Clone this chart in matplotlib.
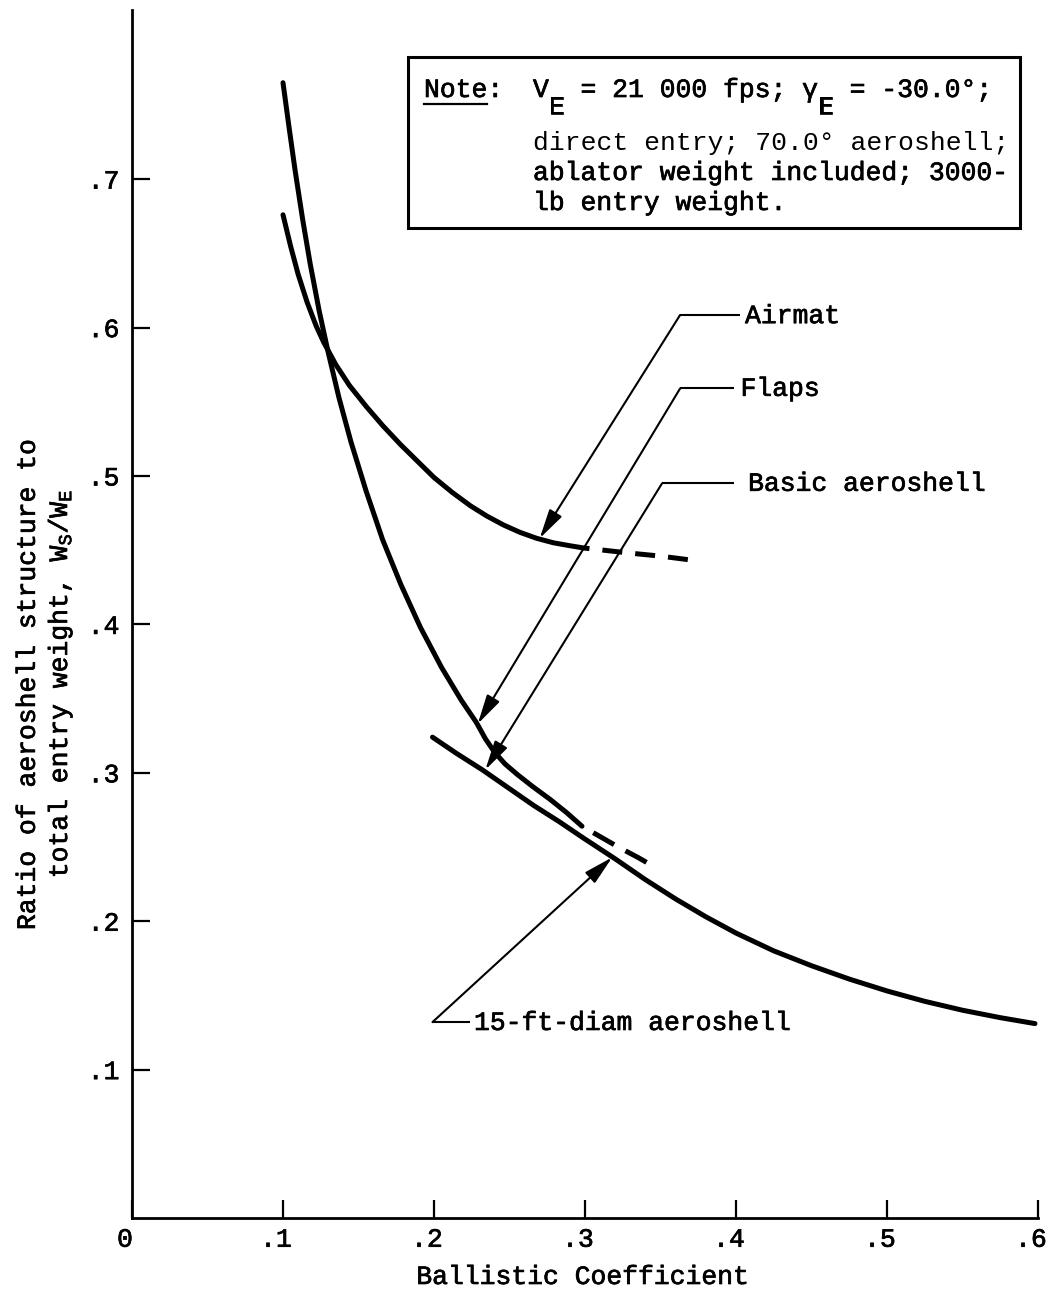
import matplotlib
matplotlib.use("Agg")
import matplotlib.pyplot as plt
import matplotlib.patheffects as pe
from matplotlib.patches import Rectangle
from matplotlib.transforms import ScaledTranslation

# ---------------------------------------------------------------------------
# Data: ratio of aeroshell structure weight to total entry weight vs.
# ballistic coefficient
# ---------------------------------------------------------------------------
airmat_x = [0.100, 0.105, 0.110, 0.116, 0.122, 0.127, 0.135, 0.144, 0.155, 0.166, 0.178,
            0.189, 0.200, 0.212, 0.224, 0.235, 0.246, 0.257, 0.268, 0.279, 0.290, 0.299]
airmat_y = [0.676, 0.655, 0.636, 0.617, 0.601, 0.590, 0.575, 0.561, 0.547, 0.534, 0.521,
            0.510, 0.499, 0.489, 0.480, 0.473, 0.467, 0.462, 0.458, 0.455, 0.453, 0.4515]
airmat_ext_x = [0.299, 0.330, 0.350, 0.373]
airmat_ext_y = [0.4515, 0.448, 0.446, 0.443]

basic_x = [0.100, 0.104, 0.108, 0.113, 0.118, 0.124, 0.130, 0.137, 0.145, 0.155, 0.166,
           0.178, 0.191, 0.205, 0.218, 0.228, 0.234, 0.240, 0.247, 0.255, 0.265, 0.277,
           0.288, 0.298]
basic_y = [0.765, 0.735, 0.706, 0.673, 0.643, 0.611, 0.583, 0.553, 0.523, 0.490, 0.457,
           0.427, 0.398, 0.371, 0.349, 0.334, 0.323, 0.314, 0.306, 0.299, 0.291, 0.282,
           0.273, 0.264]
basic_ext_x = [0.298, 0.310, 0.322, 0.335, 0.347]
basic_ext_y = [0.264, 0.257, 0.250, 0.243, 0.236]

diam15_x = [0.199, 0.215, 0.232, 0.249, 0.266, 0.283, 0.299, 0.320, 0.340, 0.360, 0.380,
            0.400, 0.425, 0.450, 0.475, 0.500, 0.525, 0.550, 0.575, 0.598]
diam15_y = [0.324, 0.313, 0.302, 0.290, 0.278, 0.267, 0.256, 0.242, 0.228, 0.215, 0.203,
            0.192, 0.180, 0.170, 0.161, 0.153, 0.146, 0.140, 0.135, 0.131]

xticks = [0.0, 0.1, 0.2, 0.3, 0.4, 0.5, 0.6]
xtick_labels = ["0", ".1", ".2", ".3", ".4", ".5", ".6"]
yticks = [0.1, 0.2, 0.3, 0.4, 0.5, 0.6, 0.7]
ytick_labels = [".1", ".2", ".3", ".4", ".5", ".6", ".7"]

# ---------------------------------------------------------------------------
W, H, DPI = 1049, 1294, 100
FS = 19
plt.rcParams["font.family"] = ["Liberation Mono", "DejaVu Sans Mono"]
plt.rcParams["mathtext.fontset"] = "custom"
plt.rcParams["mathtext.rm"] = "Liberation Mono"
plt.rcParams["mathtext.it"] = "Liberation Mono:italic"
plt.rcParams["lines.scale_dashes"] = False

INK = [pe.withStroke(linewidth=0.5, foreground="black")]

fig = plt.figure(figsize=(W / DPI, H / DPI), dpi=DPI)
AX_L, AX_R, AX_B, AX_T = 132, 1038, 1218, 10
ax = fig.add_axes([AX_L / W, 1 - AX_B / H, (AX_R - AX_L) / W, (AX_B - AX_T) / H])
ax.set_xlim(0, 0.6)
ax.set_ylim(0, 0.814)
ax.patch.set_alpha(0)

for side in ("top", "right"):
    ax.spines[side].set_visible(False)
for side in ("left", "bottom"):
    ax.spines[side].set_linewidth(2.0)

ax.set_xticks(xticks)
ax.set_xticklabels(xtick_labels)
ax.set_yticks(yticks)
ax.set_yticklabels(ytick_labels)
ax.tick_params(direction="in", length=13, width=1.6, labelsize=FS)
ax.tick_params(axis="x", pad=7)
ax.tick_params(axis="y", pad=9)
# nudge x labels left so the digit sits over its tick
shift = ScaledTranslation(-7 / DPI, 0, fig.dpi_scale_trans)
for tick in ax.xaxis.get_major_ticks():
    tick.label1.set_transform(tick.label1.get_transform() + shift)
for lab in ax.get_xticklabels() + ax.get_yticklabels():
    lab.set_path_effects(INK)

# curves
LW = 3.6
PX = 0.72  # points per pixel
smooth = dict(color="k", lw=LW, solid_capstyle="round", solid_joinstyle="round")
ax.plot(airmat_x, airmat_y, **smooth)
ax.plot(airmat_ext_x, airmat_ext_y, color="k", lw=LW,
        linestyle=(14 * PX, (20 * PX, 13 * PX)), dash_capstyle="butt")
ax.plot(basic_x, basic_y, **smooth)
ax.plot(basic_ext_x, basic_ext_y, color="k", lw=LW,
        linestyle=(24 * PX, (24 * PX, 13 * PX)), dash_capstyle="butt")
ax.plot(diam15_x, diam15_y, **smooth)


def callout(text, tip, bend, end, text_x, base_y):
    ax.plot([bend[0], end[0]], [bend[1], end[1]], color="k", lw=1.5, solid_capstyle="butt")
    ax.annotate("", xy=tip, xytext=bend,
                arrowprops=dict(arrowstyle="-|>,head_length=0.9,head_width=0.22",
                                mutation_scale=20, lw=1.5, color="k",
                                shrinkA=0, shrinkB=0))
    ax.text(text_x, base_y, text, fontsize=FS, ha="left", va="baseline",
            path_effects=INK)


callout("Airmat", (0.270, 0.458), (0.363, 0.6085), (0.4026, 0.6085), 0.406, 0.603)
callout("Flaps", (0.229, 0.333), (0.363, 0.559), (0.399, 0.559), 0.403, 0.554)
callout("Basic aeroshell", (0.234, 0.302), (0.351, 0.495), (0.399, 0.495), 0.408, 0.490)
callout("15-ft-diam aeroshell", (0.318, 0.243), (0.199, 0.132), (0.224, 0.132), 0.2265, 0.1267)


# note box (figure pixel layout)
def ftext(x, y, s, **kw):
    fig.text(x / W, 1 - y / H, s, fontsize=kw.pop("fontsize", FS), ha=kw.pop("ha", "left"),
             va=kw.pop("va", "baseline"), path_effects=kw.pop("path_effects", INK), **kw)


fig.add_artist(Rectangle((408 / W, 1 - 228 / H), (1020 - 408) / W, (228 - 57) / H,
                         transform=fig.transFigure, fill=False, lw=2.2, color="k"))
CW = FS * DPI / 72 * 0.6  # monospace cell width in pixels
NX = 424
TX = 533
ftext(NX, 97, "Note:")
fig.add_artist(plt.Line2D([NX / W, (NX + 4 * CW) / W], [1 - 104 / H, 1 - 104 / H],
                          transform=fig.transFigure, color="k", lw=1.6))
# first line set cell by cell on the typewriter grid, subscripts dropped half a line
ftext(TX, 97, "V")
ftext(TX + 1 * CW, 114, "E")
ftext(TX + 3 * CW, 97, "= 21 000 fps;")
ftext(TX + 17 * CW, 97, "\u03b3")
ftext(TX + 18 * CW, 114, "E")
ftext(TX + 20 * CW, 97, "= -30.0\u00b0;")
ftext(TX, 150, "direct entry; 70.0\u00b0 aeroshell;", path_effects=[])
ftext(TX, 180, "ablator weight included; 3000-")
ftext(TX, 210, "lb entry weight.")

# axis titles
fig.text(45 / W, 1 - 684 / H,
         "Ratio of aeroshell structure to\ntotal entry weight, W$_\\mathrm{S}$/W$_\\mathrm{E}$",
         rotation=90, fontsize=FS, ha="center", va="center", multialignment="center",
         linespacing=1.3, path_effects=INK)
fig.text(583 / W, 1 - 1277 / H, "Ballistic Coefficient", fontsize=FS, ha="center",
         va="center", path_effects=INK)

fig.savefig("out.png", dpi=DPI, facecolor="white")
